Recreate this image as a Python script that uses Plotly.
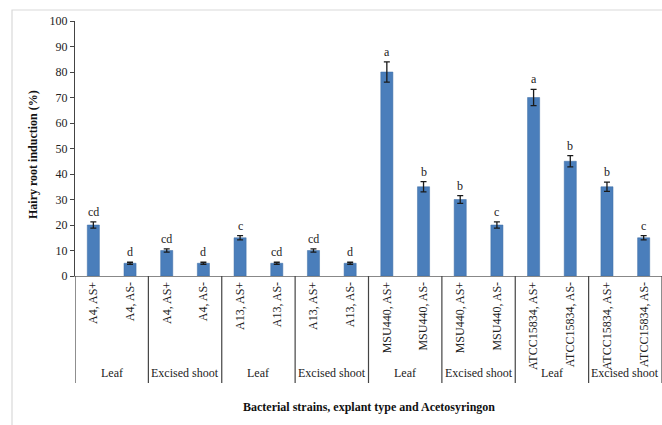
import plotly.graph_objects as go

categories = ["A4, AS+", "A4, AS-", "A4, AS+", "A4, AS-",
              "A13, AS+", "A13, AS-", "A13, AS+", "A13, AS-",
              "MSU440, AS+", "MSU440, AS-", "MSU440, AS+", "MSU440, AS-",
              "ATCC15834, AS+", "ATCC15834, AS-", "ATCC15834, AS+", "ATCC15834, AS-"]
values = [20, 5, 10, 5, 15, 5, 10, 5, 80, 35, 30, 20, 70, 45, 35, 15]
errors = [1.2, 0.4, 0.6, 0.4, 0.8, 0.4, 0.6, 0.4, 4, 2, 1.5, 1.2, 3.2, 2.2, 1.8, 0.8]
letters = ["cd", "d", "cd", "d", "c", "cd", "cd", "d", "a", "b", "b", "c", "a", "b", "b", "c"]
groups = ["Leaf", "Excised shoot", "Leaf", "Excised shoot",
          "Leaf", "Excised shoot", "Leaf", "Excised shoot"]
y_ticks = [0, 10, 20, 30, 40, 50, 60, 70, 80, 90, 100]

W, H = 662, 425
L, R, T, B = 75, 0, 21, 149
serif = "Liberation Serif, Times New Roman, serif"

xs = list(range(len(categories)))

fig = go.Figure()
fig.add_trace(go.Bar(
    x=xs, y=values,
    marker=dict(color="#4A7EBB", line=dict(color="#3D6CA5", width=0.5)),
    width=0.33,
    error_y=dict(type="data", array=errors, visible=True, color="#1a1a1a", thickness=1.3, width=3),
    hoverinfo="skip",
))

annotations = []
for x, v, e, t in zip(xs, values, errors, letters):
    annotations.append(dict(x=x, y=v + e, text=t, showarrow=False, xref="x", yref="y",
                            yanchor="bottom", yshift=1,
                            font=dict(family=serif, size=12, color="#222")))

# group labels and divider lines
pw = W - L - R
cat_px = pw / len(categories)
shapes = []
for g, name in enumerate(groups):
    cx = (2 * g + 0.5)
    annotations.append(dict(x=cx, y=0, xref="x", yref="y", text=name, showarrow=False,
                            yanchor="middle", yshift=-(373 - 276),
                            font=dict(family=serif, size=12, color="#222")))
for g in range(len(groups) + 1):
    xb = 2 * g - 0.5
    shapes.append(dict(type="line", xref="x", yref="paper", x0=xb, x1=xb,
                       y0=0, y1=-(383 - 276) / (H - T - B),
                       line=dict(color="#444", width=1.2)))
# outer frame
shapes.append(dict(type="rect", xref="paper", yref="paper",
                   x0=(12 - L) / pw, x1=(W + 5 - L) / pw,
                   y0=-(H + 5 - (H - B)) / (H - T - B), y1=1 + (T - 10) / (H - T - B),
                   line=dict(color="#d9d9d9", width=1.2), fillcolor="rgba(0,0,0,0)", layer="below"))

annotations.append(dict(x=0.5, y=-(407 - 276) / (H - T - B), xref="paper", yref="paper",
                        text="<b>Bacterial strains, explant type and Acetosyringon</b>",
                        showarrow=False, yanchor="middle",
                        font=dict(family=serif, size=12, color="#111")))
annotations.append(dict(x=(33 - L) / pw, y=0.5 - (155 - 148.5) / (H - T - B), xref="paper", yref="paper",
                        text="<b>Hairy root induction (%)</b>", textangle=-90,
                        showarrow=False, xanchor="center", yanchor="middle",
                        font=dict(family=serif, size=12, color="#111")))

fig.update_layout(
    width=W, height=H,
    margin=dict(l=L, r=R, t=T, b=B, pad=0),
    paper_bgcolor="white", plot_bgcolor="white",
    showlegend=False,
    shapes=shapes, annotations=annotations,
    xaxis=dict(range=[-0.5, len(categories) - 0.5], tickmode="array", tickvals=xs,
               ticktext=categories, tickangle=-90, ticks="", showgrid=False,
               showline=True, linecolor="#888", linewidth=1.2, zeroline=False,
               tickfont=dict(family=serif, size=12, color="#222")),
    yaxis=dict(range=[0, 100], tickmode="array", tickvals=y_ticks, ticks="outside",
               ticklen=4, tickcolor="#444", showgrid=False, showline=True,
               linecolor="#444", linewidth=1.2, zeroline=False,
               tickfont=dict(family=serif, size=12, color="#222")),
)

fig.write_html("out.html")
